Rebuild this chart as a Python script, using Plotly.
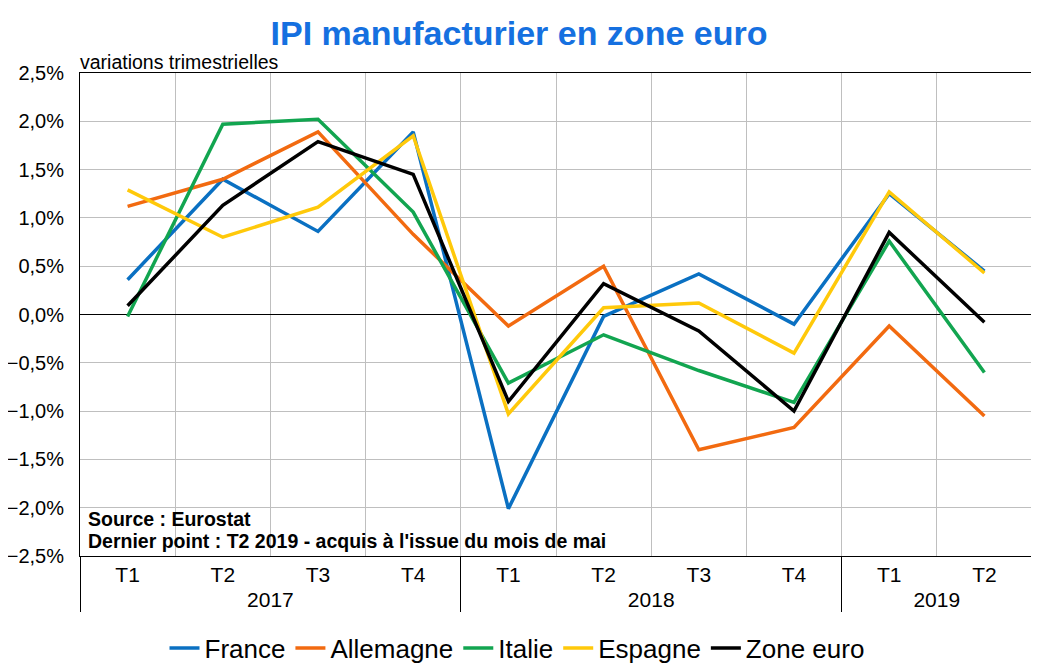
import plotly.graph_objects as go

years = ["2017"] * 4 + ["2018"] * 4 + ["2019"] * 2
quarters = ["T1", "T2", "T3", "T4", "T1", "T2", "T3", "T4", "T1", "T2"]

france = [0.36, 1.40, 0.86, 1.89, -2.01, -0.02, 0.42, -0.10, 1.25, 0.45]
allemagne = [1.12, 1.40, 1.89, 0.83, -0.12, 0.50, -1.40, -1.17, -0.12, -1.05]
italie = [-0.02, 1.97, 2.02, 1.06, -0.71, -0.21, -0.58, -0.91, 0.76, -0.60]
espagne = [1.29, 0.80, 1.11, 1.85, -1.03, 0.07, 0.12, -0.40, 1.27, 0.43]
zone_euro = [0.09, 1.13, 1.79, 1.45, -0.90, 0.32, -0.17, -1.00, 0.85, -0.08]

series = [
    ("France", france, "#0A70C2"),
    ("Allemagne", allemagne, "#F26A10"),
    ("Italie", italie, "#12A550"),
    ("Espagne", espagne, "#FFC90A"),
    ("Zone euro", zone_euro, "#000000"),
]

FONT = "Liberation Sans, Arial, sans-serif"
W, H = 1031, 659  # page body has an 8px margin in the viewer

fig = go.Figure()
for name, vals, col in series:
    fig.add_trace(go.Scatter(
        x=[years, quarters], y=vals, name=name, mode="lines",
        line=dict(color=col, width=3.5),
    ))

fig.update_layout(
    width=W, height=H,
    margin=dict(l=72, r=7, t=65, b=111, autoexpand=False),
    paper_bgcolor="white", plot_bgcolor="white",
    separators=", ",
    font=dict(family=FONT, color="black"),
    title=dict(text="<b>IPI manufacturier en zone euro</b>",
               x=(519 - 8) / W, xref="container", xanchor="center",
               y=1 - 25 / H, yref="container", yanchor="middle",
               font=dict(size=34, color="#1570E0", family=FONT)),
    showlegend=True,
    legend=dict(orientation="h", x=(517 - 8 - 72) / 952, xanchor="center",
                y=-(640 - 548) / 483, yanchor="middle",
                font=dict(size=26), itemwidth=30, tracegroupgap=0),
)

fig.update_xaxes(
    type="multicategory", tickson="boundaries", range=[-0.5, 9.5],
    showgrid=True, gridcolor="#BFBFBF", gridwidth=1,
    showline=True, linecolor="black", linewidth=1, mirror=True,
    showdividers=True, dividercolor="black", dividerwidth=1,
    ticks="", tickfont=dict(size=21), automargin=False,
)
fig.update_yaxes(
    range=[-2.5, 2.5], dtick=0.5, tickformat=".1f", ticksuffix="%",
    showgrid=True, gridcolor="#BFBFBF", gridwidth=1,
    zeroline=True, zerolinecolor="black", zerolinewidth=1,
    showline=True, linecolor="black", linewidth=1, mirror=True,
    ticks="", tickfont=dict(size=20), ticklabelstandoff=11, automargin=False,
)

fig.add_annotation(text="variations trimestrielles", xref="paper", yref="paper",
                   x=0, y=1.0, xanchor="left", yanchor="bottom", showarrow=False,
                   font=dict(size=19.5), xshift=-2, yshift=-2)
fig.add_annotation(text="<b>Source : Eurostat</b>", xref="paper", yref="paper",
                   x=0, y=(556 - 519) / 483, xanchor="left", yanchor="middle", showarrow=False,
                   font=dict(size=19.5), xshift=6)
fig.add_annotation(text="<b>Dernier point : T2 2019 - acquis à l'issue du mois de mai</b>",
                   xref="paper", yref="paper",
                   x=0, y=(556 - 541) / 483, xanchor="left", yanchor="middle", showarrow=False,
                   font=dict(size=19.5), xshift=6)

fig.write_html("out.html")
